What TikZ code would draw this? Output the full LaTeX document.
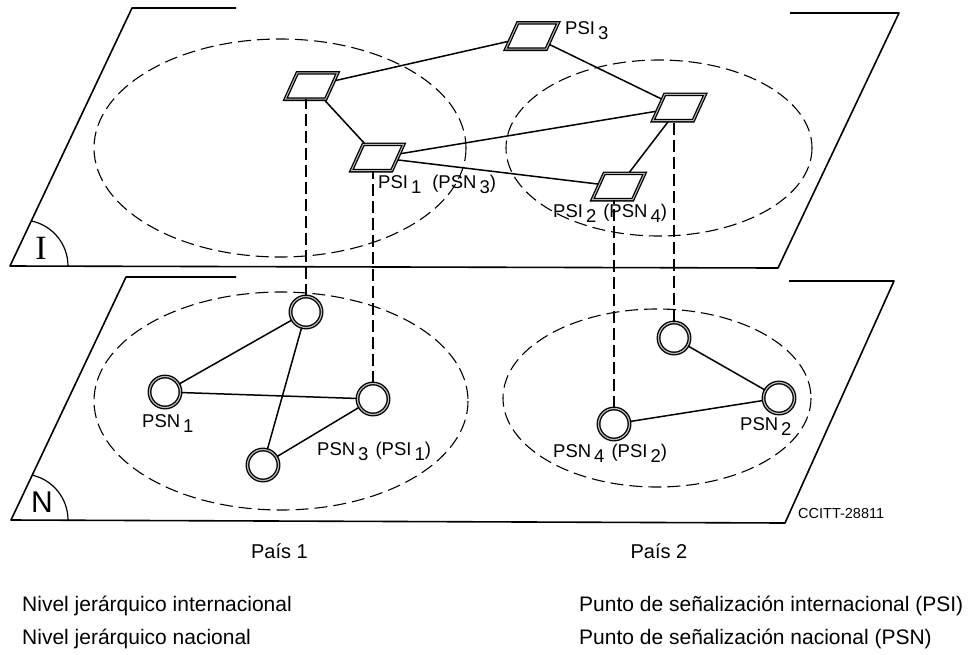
\documentclass[tikz,border=0pt]{standalone}
\usepackage{fontspec}
\setmainfont{Liberation Sans}
\newfontfamily\serifI{Liberation Serif}
\newcommand{\lowidx}[1]{\kern3pt\raisebox{-5.5pt}{#1}}
\begin{document}
\begin{tikzpicture}[x=1pt,y=-1pt,
  plane/.style={line width=1.6pt, line join=round},
  zone/.style={dash pattern=on 13pt off 6pt, line width=1.1pt},
  vlink/.style={dash pattern=on 12pt off 5pt, line width=1.3pt},
  link/.style={line width=1.5pt},
  psibox/.style={rectangle, minimum width=52pt, minimum height=26pt, inner sep=0pt},
  psiline/.style={draw=black, fill=white, line width=1.3pt, double=gray!55, double distance=1pt, line join=miter},
  psn/.style={circle, minimum size=31pt, inner sep=0pt, draw=black, fill=white,
    line width=1.35pt, double=gray!55, double distance=1.2pt},
  lbl/.style={font=\fontsize{18.5}{20}\selectfont, inner sep=0pt, anchor=base west},
  legend/.style={font=\fontsize{21}{23}\selectfont, inner sep=0pt, anchor=base west},
  countrylabel/.style={font=\fontsize{20}{22}\selectfont, inner sep=0pt, anchor=base}]
\useasboundingbox (0,0) rectangle (971,654);

% planes
\draw[plane] (236,8) -- (132,8) -- (10,266) -- (778,268) -- (899,13) -- (790,13);
\draw[plane] (236,277) -- (126,277) -- (11,520) -- (785,523) -- (894,281) -- (789,281);
\draw[line width=1.2pt] (68,266) arc[start angle=0, end angle=-79, radius=46];
\draw[line width=1.2pt] (68,520) arc[start angle=0, end angle=-77, radius=46];
\node[font=\serifI\fontsize{34}{34}\selectfont, inner sep=0pt] (lvI) at (41,248) {I};
\node[font=\fontsize{30}{30}\selectfont, inner sep=0pt] (lvN) at (42,502) {N};

% zones
\draw[zone] (280,148) ellipse [x radius=186, y radius=109];
\draw[zone] (659,148) ellipse [x radius=153, y radius=88];
\draw[zone] (281,401) ellipse [x radius=187, y radius=109];
\draw[zone] (657,398) ellipse [x radius=154, y radius=89];

% international points (frames)
\node[psibox] (A) at (311.5,86) {};
\node[psibox] (P1) at (377.5,157.5) {};
\node[psibox] (P3) at (532,36) {};
\node[psibox] (D) at (679,107.5) {};
\node[psibox] (P2) at (618.5,186.5) {};

% national points
\node[psn] (C1) at (306,312) {};
\node[psn] (N1) at (165,392) {};
\node[psn] (N3) at (373,399) {};
\node[psn] (C4) at (263,465) {};
\node[psn] (E) at (674,338) {};
\node[psn] (N2) at (779,398) {};
\node[psn] (N4) at (614,424) {};

% links international
\draw[link] (A.center) -- (P3.center);
\draw[link] (A.center) -- (P1.center);
\draw[link] (P3.center) -- (D.center);
\draw[link] (P1.center) -- (D.center);
\draw[link] (P1.center) -- (P2.center);
\draw[link] (D.center) -- (P2.center);

% parallelogram symbols on top
\foreach \n in {A,P1,P3,D,P2}
  \draw[psiline] (\n.south west) -- ([xshift=-12pt]\n.south east) -- (\n.north east) -- ([xshift=12pt]\n.north west) -- cycle;

% links national
\draw[link] (N1) -- (C1);
\draw[link] (N1) -- (N3);
\draw[link] (C1) -- (C4);
\draw[link] (C4) -- (N3);
\draw[link] (E) -- (N2);
\draw[link] (N4) -- (N2);

% vertical correspondences
\draw[vlink] (C1.north) -- (C1.north |- A.south);
\draw[vlink] (N3.north) -- (N3.north |- P1.south);
\draw[vlink] (N4.north) -- (N4.north |- P2.south);
\draw[vlink] (E.north) -- (E.north |- D.south);

% labels
\node[lbl] (l3) at (565,34) {PSI\lowidx{3}};
\node[lbl] (l1) at (378,188) {PSI\lowidx{1}\hspace{11pt}(PSN\lowidx{3})};
\node[lbl] (l2) at (553,217) {PSI\lowidx{2}\hspace{7pt}(PSN\lowidx{4})};
\node[lbl] (m1) at (142,427) {PSN\lowidx{1}};
\node[lbl] (m3) at (317,455) {PSN\lowidx{3}\hspace{7pt}(PSI\lowidx{1})};
\node[lbl] (m4) at (553,457) {PSN\lowidx{4}\hspace{7pt}(PSI\lowidx{2})};
\node[lbl] (m2) at (740,430) {PSN\lowidx{2}};

\node[font=\fontsize{14.5}{15}\selectfont, inner sep=0pt, anchor=base west] (code) at (798,518) {CCITT-28811};

\node[countrylabel] (pais1) at (279.5,558) {País 1};
\node[countrylabel] (pais2) at (659,558) {País 2};

\node[legend] (g1) at (22,611) {Nivel jerárquico internacional};
\node[legend] (g2) at (22,644) {Nivel jerárquico nacional};
\node[legend] (g3) at (579,611) {Punto de señalización internacional (PSI)};
\node[legend] (g4) at (579,644) {Punto de señalización nacional (PSN)};
\end{tikzpicture}
\end{document}
